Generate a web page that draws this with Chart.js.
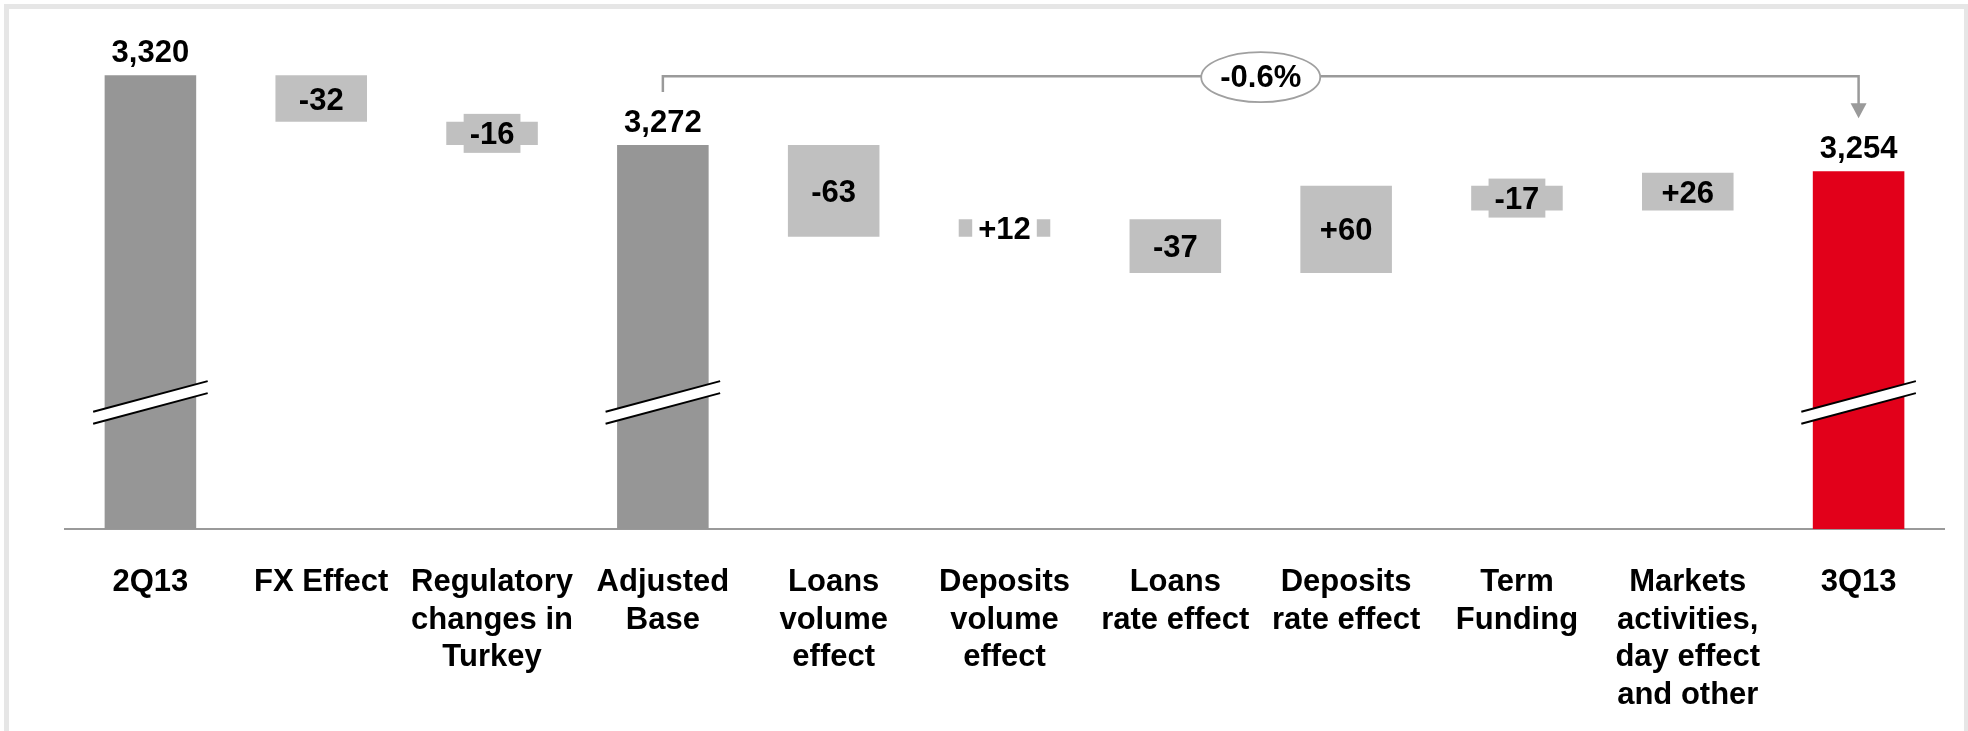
<!DOCTYPE html>
<html>
<head>
<meta charset="utf-8">
<script src="https://cdn.jsdelivr.net/npm/chart.js@4.4.1/dist/chart.umd.min.js"></script>
<style>
  html, body { margin: 0; padding: 0; background: #ffffff; }
  #wrap { width: 1968px; height: 731px; position: relative; }
</style>
</head>
<body>
<div id="wrap"><canvas id="chart" width="1968" height="731"></canvas></div>
<script>
// ---- Data ----
const categories = [
  '2Q13',
  'FX Effect',
  ['Regulatory', 'changes in', 'Turkey'],
  ['Adjusted', 'Base'],
  ['Loans', 'volume', 'effect'],
  ['Deposits', 'volume', 'effect'],
  ['Loans', 'rate effect'],
  ['Deposits', 'rate effect'],
  ['Term', 'Funding'],
  ['Markets', 'activities,', 'day effect', 'and other'],
  '3Q13'
];
const totals = [3320, null, null, 3272, null, null, null, null, null, null, 3254];
const deltas = [null, -32, -16, null, -63, 12, -37, 60, -17, 26, null];
const changeLabel = '-0.6%';

// ---- Scale settings (broken axis) ----
const axisMin = 3008;
const axisMax = 3360;
const axisBreakAt = 3095;

// ---- Styles ----
const FONT = "'Liberation Sans', Arial, Helvetica, sans-serif";
const totalColor = '#969696';
const lastColor = '#e2001a';
const deltaColor = '#c0c0c0';
const lineGrey = '#9a9a9a';

// Build waterfall ranges from the data
const ranges = [];
const colors = [];
let level = 0;
categories.forEach((c, i) => {
  if (totals[i] !== null) {
    ranges.push([axisMin, totals[i]]);
    level = totals[i];
    colors.push(i === categories.length - 1 ? lastColor : totalColor);
  } else {
    ranges.push([level, level + deltas[i]]);
    level += deltas[i];
    colors.push(deltaColor);
  }
});
// boxed labels for bars thinner than the text
const labelBox = deltas.map((d, i) => {
  if (d === null) return null;
  if (Math.abs(d) >= 25) return null;
  return d > 0 ? '#ffffff' : deltaColor;
});

function fmtTotal(v) { return v.toLocaleString('en-US'); }
function fmtDelta(v) { return (v > 0 ? '+' : '') + v; }

const framePlugin = {
  id: 'frame',
  beforeDraw(chart) {
    const ctx = chart.ctx;
    ctx.save();
    ctx.fillStyle = '#ffffff';
    ctx.fillRect(0, 0, chart.width, chart.height);
    ctx.strokeStyle = '#e6e6e6';
    ctx.lineWidth = 5;
    ctx.strokeRect(6.5, 6.5, chart.width - 8, chart.height + 20);
    ctx.restore();
  }
};

const overlayPlugin = {
  id: 'overlay',
  afterDatasetsDraw(chart) {
    const ctx = chart.ctx;
    const meta = chart.getDatasetMeta(0);
    const yScale = chart.scales.y;
    ctx.save();

    // axis break marks on total bars
    const by = yScale.getPixelForValue(axisBreakAt);
    totals.forEach((t, i) => {
      if (t === null) return;
      const el = meta.data[i];
      const cx = el.x;
      const hw = el.width / 2 + 11.5;
      const s = 0.268;
      const gap = 12;
      const y1l = by - gap / 2 + s * hw, y1r = by - gap / 2 - s * hw;
      ctx.fillStyle = '#ffffff';
      ctx.beginPath();
      ctx.moveTo(cx - hw, y1l);
      ctx.lineTo(cx + hw, y1r);
      ctx.lineTo(cx + hw, y1r + gap);
      ctx.lineTo(cx - hw, y1l + gap);
      ctx.closePath();
      ctx.fill();
      ctx.strokeStyle = '#000000';
      ctx.lineWidth = 2;
      ctx.beginPath();
      ctx.moveTo(cx - hw, y1l); ctx.lineTo(cx + hw, y1r);
      ctx.moveTo(cx - hw, y1l + gap); ctx.lineTo(cx + hw, y1r + gap);
      ctx.stroke();
    });

    // value labels
    ctx.font = 'bold 31px ' + FONT;
    ctx.textAlign = 'center';
    ctx.textBaseline = 'middle';
    meta.data.forEach((el, i) => {
      const top = Math.min(el.y, el.base);
      const bottom = Math.max(el.y, el.base);
      if (totals[i] !== null) {
        ctx.fillStyle = '#000000';
        ctx.fillText(fmtTotal(totals[i]), el.x, top - 22);
      } else {
        const txt = fmtDelta(deltas[i]);
        const cy = (top + bottom) / 2;
        if (labelBox[i]) {
          const w = ctx.measureText(txt).width + 12;
          const h = 39;
          ctx.fillStyle = labelBox[i];
          ctx.fillRect(el.x - w / 2, cy - h / 2, w, h);
        }
        ctx.fillStyle = '#000000';
        ctx.fillText(txt, el.x, cy + 2.5);
      }
    });

    // change bracket from Adjusted Base to 3Q13
    const a = meta.data[3], b = meta.data[10];
    const yTop = yScale.getPixelForValue(totals[0]) + 1;
    const yA = yScale.getPixelForValue(totals[3]) - 53;
    const yB = yScale.getPixelForValue(totals[10]) - 53;
    ctx.strokeStyle = lineGrey;
    ctx.lineWidth = 2.5;
    ctx.beginPath();
    ctx.moveTo(a.x, yA);
    ctx.lineTo(a.x, yTop);
    ctx.lineTo(b.x, yTop);
    ctx.lineTo(b.x, yB - 14);
    ctx.stroke();
    ctx.fillStyle = lineGrey;
    ctx.beginPath();
    ctx.moveTo(b.x - 8, yB - 15);
    ctx.lineTo(b.x + 8, yB - 15);
    ctx.lineTo(b.x, yB);
    ctx.closePath();
    ctx.fill();

    const ex = (a.x + b.x) / 2, ey = yTop + 1;
    ctx.beginPath();
    ctx.ellipse(ex, ey, 59.5, 25, 0, 0, Math.PI * 2);
    ctx.fillStyle = '#ffffff';
    ctx.fill();
    ctx.lineWidth = 1.8;
    ctx.strokeStyle = '#a0a0a0';
    ctx.stroke();
    ctx.fillStyle = '#000000';
    ctx.fillText(changeLabel, ex, ey + 1);

    ctx.restore();
  }
};

new Chart(document.getElementById('chart'), {
  type: 'bar',
  data: {
    labels: categories,
    datasets: [{
      data: ranges,
      backgroundColor: colors,
      borderWidth: 0,
      categoryPercentage: 1,
      barPercentage: 0.536
    }]
  },
  options: {
    responsive: false,
    devicePixelRatio: 1,
    animation: false,
    layout: { padding: { left: 65, right: 24, top: 17, bottom: 0 } },
    plugins: { legend: { display: false }, tooltip: { enabled: false } },
    scales: {
      x: {
        grid: { display: false, drawTicks: false },
        border: { display: true, color: lineGrey, width: 2 },
        ticks: {
          color: '#000000',
          font: { family: FONT, size: 31, weight: 'bold', lineHeight: 1.21 },
          padding: 35,
          maxRotation: 0,
          autoSkip: false
        },
        afterFit(scale) { scale.height = 202; }
      },
      y: {
        display: false,
        min: axisMin,
        max: axisMax,
        grid: { display: false }
      }
    }
  },
  plugins: [framePlugin, overlayPlugin]
});
</script>
</body>
</html>
